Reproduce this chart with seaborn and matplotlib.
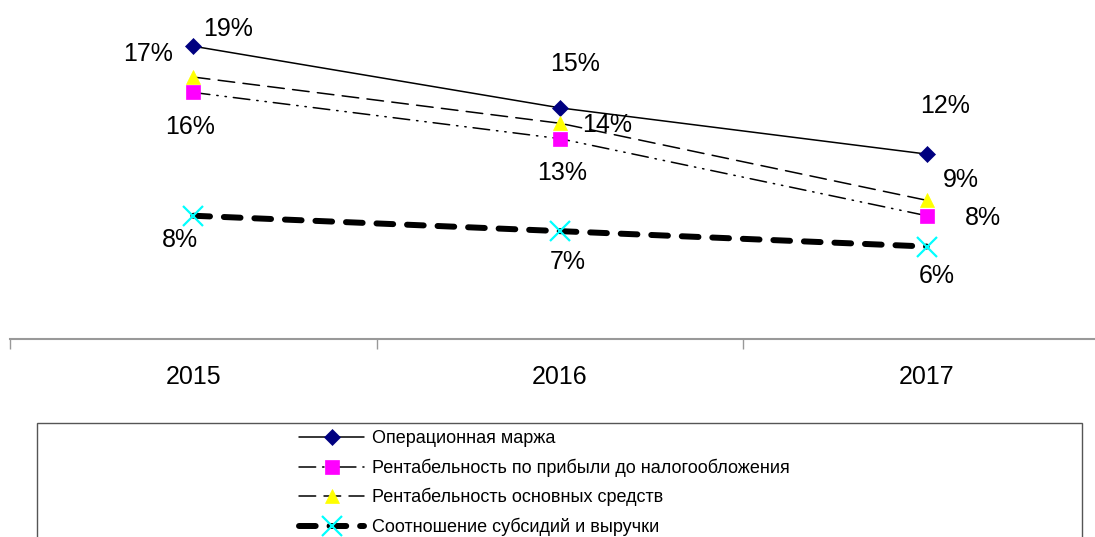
import matplotlib
matplotlib.use("Agg")
import matplotlib.pyplot as plt
import seaborn as sns
from matplotlib.patches import Rectangle

years = ["2015", "2016", "2017"]
op_margin = [0.19, 0.15, 0.12]
pretax = [0.16, 0.13, 0.08]
fixed_assets = [0.17, 0.14, 0.09]
subsidies = [0.08, 0.07, 0.06]
series_names = [
    "Операционная маржа",
    "Рентабельность по прибыли до налогообложения",
    "Рентабельность основных средств",
    "Соотношение субсидий и выручки",
]

sns.set_theme(style="white")
plt.rcParams["font.family"] = ["Liberation Sans", "DejaVu Sans"]
plt.rcParams["lines.scale_dashes"] = False

W, H = 1095, 537
fig = plt.figure(figsize=(W / 100, H / 100), dpi=100)
ax = fig.add_axes([10 / W, (H - 339) / H, (1110 - 10) / W, 339 / H])

sns.lineplot(x=years, y=op_margin, ax=ax, color="black", linewidth=1.1,
             marker="D", markersize=8, markerfacecolor="#000080",
             markeredgecolor="#000080", markeredgewidth=0.5,
             label=series_names[0], sort=False)
sns.lineplot(x=years, y=pretax, ax=ax, color="black", linewidth=1.1,
             linestyle=(0, (12, 5, 1, 5, 1, 5)),
             marker="s", markersize=9.5, markerfacecolor="#FF00FF",
             markeredgecolor="#FF00FF", markeredgewidth=0.5,
             label=series_names[1], sort=False)
sns.lineplot(x=years, y=fixed_assets, ax=ax, color="black", linewidth=1.1,
             linestyle=(0, (12, 6)),
             marker="^", markersize=10.5, markerfacecolor="#FFFF00",
             markeredgecolor="#FFFF00", markeredgewidth=0.5,
             label=series_names[2], sort=False)
sns.lineplot(x=years, y=subsidies, ax=ax, color="black", linewidth=4.3,
             linestyle=(0, (12, 10)),
             marker="x", markersize=15, markerfacecolor="#00FFFF",
             markeredgecolor="#00FFFF", markeredgewidth=1.6,
             label=series_names[3], sort=False)
for ln in ax.get_lines():
    ln.set_dash_capstyle("round")
    ln.set_solid_capstyle("round")

ax.set_xlim(-0.5, 2.5)
ax.set_ylim(0, 0.22)
ax.set_xlabel("")
ax.set_ylabel("")
ax.set_yticks([])
for s in ["left", "top", "right"]:
    ax.spines[s].set_visible(False)
ax.spines["bottom"].set_color("#999999")
ax.spines["bottom"].set_linewidth(1.5)
ax.set_xticks([0, 1, 2])
ax.set_xticklabels(years, fontsize=18, color="black")
ax.tick_params(axis="x", which="major", length=0, pad=19)
ax.set_xticks([-0.5, 0.5, 1.5, 2.5], minor=True)
ax.tick_params(axis="x", which="minor", length=7, width=1, color="#999999",
               direction="out", bottom=True)

# data labels: offsets in pixels from each point
label_offsets = {
    0: [(35, 17), (15, 44), (18, 48)],
    1: [(-3, -35), (2, -34), (56, -2)],
    2: [(-45, 23), (47, -2), (34, 20)],
    3: [(-13, -24), (8, -31), (10, -29)],
}
all_vals = [op_margin, pretax, fixed_assets, subsidies]
for si, vals in enumerate(all_vals):
    for i, v in enumerate(vals):
        dx, dy = label_offsets[si][i]
        ax.annotate(f"{round(v * 100)}%", (i, v), xytext=(dx, dy),
                    textcoords="offset pixels", ha="center", va="center",
                    fontsize=18, color="black")

handles, labels = ax.get_legend_handles_labels()
if ax.legend_:
    ax.legend_.remove()

fig.patches.append(Rectangle((37 / W, -0.1), (1082 - 37) / W, 0.1 + (H - 423) / H,
                             transform=fig.transFigure, fill=False,
                             edgecolor="#555555", linewidth=1.0))
leg = fig.legend(handles, labels, loc="upper left",
                 bbox_to_anchor=(285 / W, (H - 416) / H), frameon=False,
                 fontsize=13, handlelength=3.6, handletextpad=0.4,
                 labelspacing=0.62, borderpad=0.3)
for t in leg.get_texts():
    t.set_color("black")

fig.savefig("out.png", dpi=100)
